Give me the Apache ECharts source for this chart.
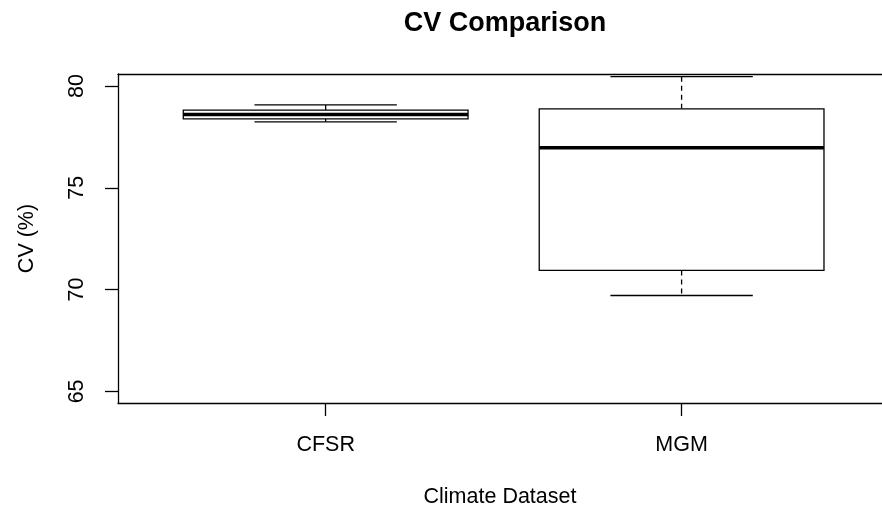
<!DOCTYPE html>
<html>
<head>
<meta charset="utf-8">
<script src="https://cdn.jsdelivr.net/npm/echarts@6/dist/echarts.min.js"></script>
<style>
html,body{margin:0;padding:0;background:#fff;}
#chart{width:882px;height:515px;}
</style>
</head>
<body>
<div id="chart"></div>
<script>
var categories = ['CFSR', 'MGM'];
var categoryPositions = [1, 2];
var whiskerLow = [78.24, 69.71];
var q1 = [78.39, 70.94];
var median = [78.60, 76.97];
var q3 = [78.82, 78.88];
var whiskerHigh = [79.07, 80.46];
var yTicks = [65, 70, 75, 80];

var data = categories.map(function (c, i) {
  return [categoryPositions[i], whiskerLow[i], q1[i], median[i], q3[i], whiskerHigh[i]];
});

var FONT = '"Liberation Sans", Arial, sans-serif';
var chart = echarts.init(document.getElementById('chart'), null, {renderer: 'canvas'});

function renderItem(params, api) {
  var x = api.value(0);
  var lo = api.coord([x, api.value(1)]);
  var b1 = api.coord([x, api.value(2)]);
  var md = api.coord([x, api.value(3)]);
  var b3 = api.coord([x, api.value(4)]);
  var hi = api.coord([x, api.value(5)]);
  var halfBox = api.size([0.4, 0])[0];
  var halfStaple = api.size([0.2, 0])[0];
  var cx = lo[0];
  var lineStyle = {stroke: '#000', lineWidth: 1.3, fill: null};
  var dashStyle = {stroke: '#000', lineWidth: 1.3, lineDash: [5, 4], fill: null};
  return {
    type: 'group',
    children: [
      {type: 'line', shape: {x1: cx, y1: b3[1], x2: cx, y2: hi[1]}, style: dashStyle},
      {type: 'line', shape: {x1: cx, y1: b1[1], x2: cx, y2: lo[1]}, style: dashStyle},
      {type: 'line', shape: {x1: cx - halfStaple, y1: hi[1], x2: cx + halfStaple, y2: hi[1]}, style: lineStyle},
      {type: 'line', shape: {x1: cx - halfStaple, y1: lo[1], x2: cx + halfStaple, y2: lo[1]}, style: lineStyle},
      {type: 'rect', shape: {x: cx - halfBox, y: b3[1], width: 2 * halfBox, height: b1[1] - b3[1]},
        style: {stroke: '#000', lineWidth: 1.3, fill: '#fff'}},
      {type: 'line', shape: {x1: cx - halfBox, y1: md[1], x2: cx + halfBox, y2: md[1]},
        style: {stroke: '#000', lineWidth: 3.6}}
    ]
  };
}

var axisLineStyle = {color: '#000', width: 1.3};

chart.setOption({
  backgroundColor: '#fff',
  animation: false,
  title: {
    text: 'CV Comparison',
    left: 500,
    top: 5,
    textAlign: 'center',
    textStyle: {fontFamily: FONT, fontSize: 27, fontWeight: 'bold', color: '#000'}
  },
  grid: {
    left: 118, top: 74, right: 0, bottom: 112,
    show: false,
    containLabel: false
  },
  xAxis: [{
    type: 'value',
    position: 'bottom',
    min: 0.4166, max: 2.563,
    name: 'Climate Dataset',
    nameLocation: 'middle',
    nameGap: 83,
    nameTextStyle: {fontFamily: FONT, fontSize: 21.5, color: '#000'},
    axisLine: {show: true, onZero: false, lineStyle: axisLineStyle},
    axisTick: {show: true, length: 13, customValues: categoryPositions, lineStyle: axisLineStyle},
    axisLabel: {
      show: true, margin: 31, customValues: categoryPositions,
      fontFamily: FONT, fontSize: 21.5, color: '#000',
      formatter: function (v) { return categories[categoryPositions.indexOf(v)] || ''; }
    },
    splitLine: {show: false}
  }, {
    type: 'value',
    position: 'top',
    min: 0.4166, max: 2.563,
    axisLine: {show: true, onZero: false, lineStyle: axisLineStyle},
    axisTick: {show: false},
    axisLabel: {show: false},
    splitLine: {show: false}
  }],
  yAxis: {
    type: 'value',
    min: 64.43, max: 80.59,
    name: 'CV (%)',
    nameLocation: 'middle',
    nameGap: 80,
    nameRotate: 90,
    nameTextStyle: {fontFamily: FONT, fontSize: 21.5, color: '#000'},
    axisLine: {show: true, onZero: false, lineStyle: axisLineStyle},
    axisTick: {show: true, length: 13, customValues: yTicks, lineStyle: axisLineStyle},
    axisLabel: {
      show: true, margin: 30, rotate: 90, customValues: yTicks,
      fontFamily: FONT, fontSize: 21.5, color: '#000'
    },
    splitLine: {show: false}
  },
  series: [{
    type: 'custom',
    renderItem: renderItem,
    xAxisIndex: 0,
    encode: {x: 0, y: [1, 2, 3, 4, 5]},
    data: data,
    clip: false
  }]
});
</script>
</body>
</html>
